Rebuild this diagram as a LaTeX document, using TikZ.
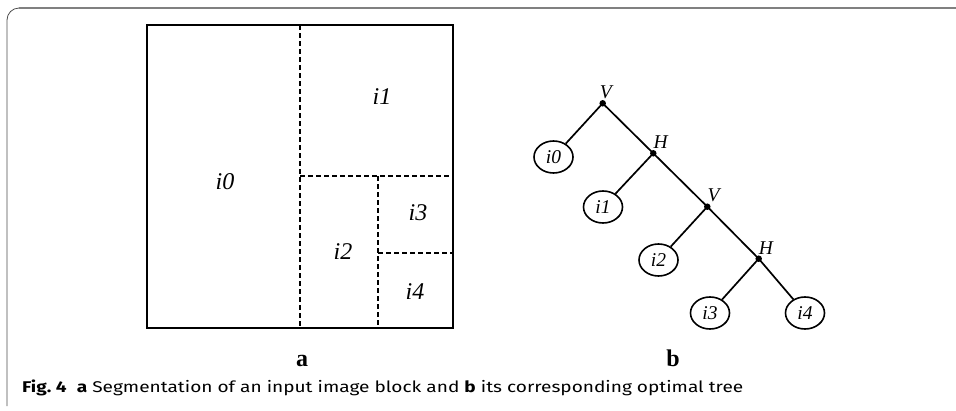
\documentclass[tikz,border=0pt]{standalone}
\usepackage{graphicx}
\usepackage{fontspec}
\setmainfont{Liberation Serif}
\newfontfamily\capfont{Fira Sans}
\usetikzlibrary{shapes.geometric}
\begin{document}
\begin{tikzpicture}[x=1pt,y=-1pt,
  block/.style={line width=2.6pt},
  split/.style={line width=1.4pt,dash pattern=on 4.5pt off 3.5pt},
  region/.style={font=\fontsize{24}{24}\selectfont\itshape},
  leaf/.style={draw,ellipse,line width=1.6pt,minimum width=39pt,minimum height=32pt,inner sep=0pt,font=\fontsize{19.5}{19.5}\selectfont\itshape},
  inner/.style={circle,fill,inner sep=0pt,minimum size=6.5pt},
  cut/.style={font=\fontsize{19.5}{19.5}\selectfont\itshape,inner sep=1pt},
  edge/.style={line width=1.7pt},
  sub/.style={font=\fontsize{24}{24}\selectfont\bfseries,anchor=base,inner sep=0pt}]
\useasboundingbox (0,0) rectangle (956,410);
% outer frame with rounded corner
\draw[gray!60!black,line width=0.8pt,rounded corners=12pt] (7,406) -- (7,8) -- (30,8);
\draw[gray,line width=2pt] (19,8) -- (956,8);
% (a) block segmentation
\coordinate (tl) at (147,25);
\coordinate (br) at (453,328);
\coordinate (m1t) at (300,25);
\coordinate (m1b) at (300,328);
\coordinate (h1l) at (300,176);
\coordinate (h1r) at (453,176);
\coordinate (m2t) at (378,176);
\coordinate (m2b) at (378,328);
\coordinate (h2l) at (378,253);
\coordinate (h2r) at (453,253);
\draw[split] (m1t) -- (m1b);
\draw[split] (h1l) -- (h1r);
\draw[split] (m2t) -- (m2b);
\draw[split] (h2l) -- (h2r);
\draw[block] (tl) rectangle (br);
\node[region] (r0) at (225,182) {i0};
\node[region] (r1) at (382,97) {i1};
\node[region] (r2) at (343,252) {i2};
\node[region] (r3) at (418,213) {i3};
\node[region] (r4) at (415,292) {i4};
\node[sub] (la) at (302,366) {a};
% (b) tree
\node[inner] (v1) at (602.7,103.3) {};
\node[inner] (h1) at (653.3,153.3) {};
\node[inner] (v2) at (707.3,206.7) {};
\node[inner] (h2) at (758.7,258.7) {};
\node[leaf] (t0) at (553.5,157) {i0};
\node[leaf] (t1) at (603,207) {i1};
\node[leaf] (t2) at (658.5,260) {i2};
\node[leaf] (t3) at (710,313) {i3};
\node[leaf] (t4) at (805,313) {i4};
\draw[edge] (v1.center) -- (t0);
\draw[edge] (v1.center) -- (h1.center);
\draw[edge] (h1.center) -- (t1);
\draw[edge] (h1.center) -- (v2.center);
\draw[edge] (v2.center) -- (t2);
\draw[edge] (v2.center) -- (h2.center);
\draw[edge] (h2.center) -- (t3);
\draw[edge] (h2.center) -- (t4);
\node[cut,anchor=south] (lv1) at ([xshift=3pt]v1.north) {V};
\node[cut,anchor=south west] (lh1) at ([xshift=-1pt]h1.north) {H};
\node[cut,anchor=south west] (lv2) at ([xshift=-1pt]v2.north) {V};
\node[cut,anchor=south west] (lh2) at ([xshift=-1pt]h2.north) {H};
\node[sub] (lb) at (673,366) {b};
% caption
\node[anchor=base west,inner sep=0pt] (cap) at (22,392)
  {\resizebox{721pt}{12.6pt}{\capfont\textbf{Fig.~4}\ \ \textbf{a} Segmentation of an input image block and \textbf{b} its corresponding optimal tree}};
\end{tikzpicture}
\end{document}
